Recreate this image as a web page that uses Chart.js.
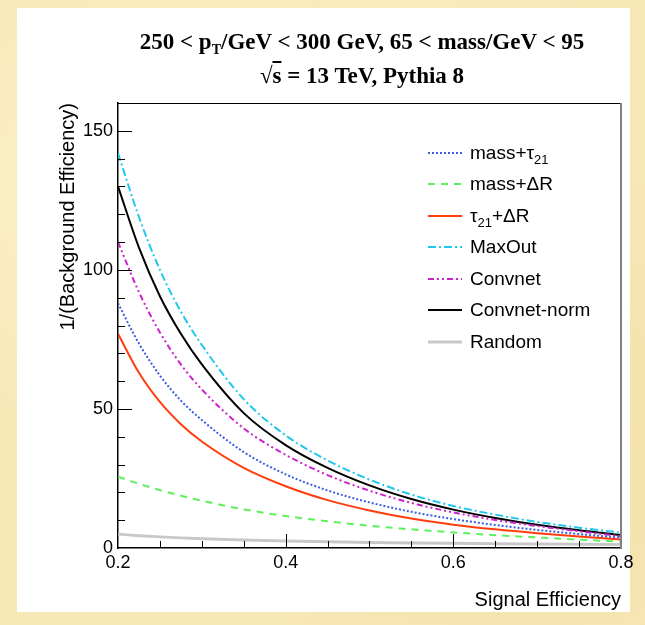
<!DOCTYPE html>
<html>
<head>
<meta charset="utf-8">
<script src="https://cdn.jsdelivr.net/npm/chart.js@4.4.1/dist/chart.umd.min.js"></script>
<style>
  html, body { margin: 0; padding: 0; }
  body {
    width: 645px; height: 625px; position: relative; overflow: hidden;
    background-color: #f8e8b6;
    background-image:
      radial-gradient(circle at 20% 30%, rgba(255,247,215,0.6) 0, rgba(255,247,215,0) 40%),
      radial-gradient(circle at 80% 70%, rgba(238,214,155,0.5) 0, rgba(238,214,155,0) 45%),
      radial-gradient(circle at 60% 10%, rgba(252,238,195,0.7) 0, rgba(252,238,195,0) 35%);
  }
  #panel { position: absolute; left: 17px; top: 8px; width: 613px; height: 604px; background: #fff; }
  #chart { position: absolute; left: 0; top: 0; }
  #title {
    position: absolute; left: 112px; top: 25px; width: 500px;
    text-align: center; color: #000;
    font: bold 23px "Liberation Serif", "Times New Roman", serif; line-height: 34px;
  }
  #title sub { font-size: 14px; vertical-align: -5px; line-height: 0; }
  .ov { text-decoration: overline; }
  #legend { position: absolute; left: 428px; top: 137px; font: 19px "Liberation Sans", Arial, sans-serif; color: #000; }
  #legend .row { height: 31.5px; display: flex; align-items: center; }
  #legend svg { margin-right: 8px; }
  #legend sub { font-size: 13px; vertical-align: -5px; line-height: 0; }
</style>
</head>
<body>
<div id="panel"></div>
<canvas id="chart" width="645" height="625"></canvas>
<div id="title">250 &lt; p<sub>T</sub>/GeV &lt; 300 GeV, 65 &lt; mass/GeV &lt; 95<br>√<span class="ov">s</span> = 13 TeV, Pythia 8</div>
<div id="legend"></div>
<script>
// signal efficiency (x) and 1/(background efficiency) per tagger
const sigEff      = [0.2, 0.225, 0.25, 0.275, 0.3, 0.35, 0.4, 0.45, 0.5, 0.55, 0.6, 0.65, 0.7, 0.75, 0.8];
const massTau21   = [88, 73.5, 62, 53, 46, 34.5, 26.5, 20.7, 16.4, 13.0, 10.4, 8.3, 6.5, 5.0, 3.7];
const massDeltaR  = [25.6, 23.1, 20.8, 18.8, 17.0, 13.9, 11.5, 9.6, 8.0, 6.7, 5.6, 4.6, 3.8, 3.0, 2.3];
const tau21DeltaR = [77, 63, 52.5, 44.5, 38.3, 28.8, 22.2, 17.2, 13.5, 10.6, 8.4, 6.7, 5.3, 4.1, 3.1];
const maxOut      = [142, 119, 100, 85, 73, 53.5, 40.5, 31.5, 24.6, 19.2, 15.1, 12.0, 9.4, 7.3, 5.5];
const convnet     = [110, 92, 77.5, 66, 57, 43, 33.5, 26.2, 20.6, 16.2, 12.8, 10.1, 7.9, 6.0, 4.2];
const convnetNorm = [130, 108, 90.5, 77, 66, 48.5, 37, 28.8, 22.5, 17.6, 13.8, 10.8, 8.4, 6.4, 4.7];
const randomTag   = [5.0, 4.44, 4.0, 3.64, 3.33, 2.86, 2.5, 2.22, 2.0, 1.82, 1.67, 1.54, 1.43, 1.33, 1.25];

const legendLabels = ['mass+τ<sub>21</sub>', 'mass+ΔR', 'τ<sub>21</sub>+ΔR', 'MaxOut', 'Convnet', 'Convnet-norm', 'Random'];
const xTickLabels = [0.2, 0.4, 0.6, 0.8];
const yTickLabels = [0, 50, 100, 150];
const xMinorTicks = [0.25, 0.3, 0.35, 0.4, 0.45, 0.5, 0.55, 0.6, 0.65, 0.7, 0.75];
const yMinorTicks = [10, 20, 30, 40, 50, 60, 70, 80, 90, 100, 110, 120, 130, 140, 150];

const styles = [
  { color: '#3a5fe0', width: 2, dash: [2, 2] },
  { color: '#5cf05c', width: 2, dash: [7, 6] },
  { color: '#ff3d0d', width: 2, dash: [] },
  { color: '#1fc8ee', width: 2, dash: [8, 3, 2, 3] },
  { color: '#cc22cc', width: 2, dash: [6, 3, 2, 3, 2, 3] },
  { color: '#000000', width: 2, dash: [] },
  { color: '#c8c8c8', width: 3, dash: [] }
];

const series = [massTau21, massDeltaR, tau21DeltaR, maxOut, convnet, convnetNorm, randomTag];

const datasets = series.map((vals, i) => ({
  label: legendLabels[i].replace(/<\/?sub>/g, ''),
  data: vals.map((v, k) => ({ x: sigEff[k], y: v })),
  borderColor: styles[i].color,
  borderWidth: styles[i].width,
  borderDash: styles[i].dash,
  pointRadius: 0,
  fill: false,
  cubicInterpolationMode: 'monotone'
}));

// legend as html so the subscripts stay real text
const legendEl = document.getElementById('legend');
legendLabels.forEach((lab, i) => {
  const s = styles[i];
  const row = document.createElement('div');
  row.className = 'row';
  row.innerHTML = `<svg width="34" height="10"><line x1="0" y1="5" x2="34" y2="5" stroke="${s.color}" stroke-width="${s.width}" stroke-dasharray="${s.dash.join(' ')}"/></svg><span>${lab}</span>`;
  legendEl.appendChild(row);
});

// ROOT style ticks pointing into the frame, plus the top / right frame lines
const insideTicks = {
  id: 'insideTicks',
  afterDraw(chart) {
    const { ctx, chartArea: a, scales: { x, y } } = chart;
    ctx.save();
    ctx.strokeStyle = '#000';
    ctx.lineWidth = 1;
    ctx.beginPath();
    yMinorTicks.forEach(v => {
      const py = Math.round(y.getPixelForValue(v)) + 0.5;
      const len = v % 50 === 0 ? 14 : 7;
      ctx.moveTo(a.left, py);
      ctx.lineTo(a.left + len, py);
    });
    xMinorTicks.forEach(v => {
      const px = Math.round(x.getPixelForValue(v)) + 0.5;
      const len = Math.abs(v * 10 % 2) < 1e-6 ? 14 : 7;
      ctx.moveTo(px, a.bottom);
      ctx.lineTo(px, a.bottom - len);
    });
    ctx.moveTo(a.left, a.top + 0.5);
    ctx.lineTo(a.right, a.top + 0.5);
    ctx.stroke();
    ctx.strokeStyle = '#808080';
    ctx.lineWidth = 2;
    ctx.beginPath();
    ctx.moveTo(a.right, a.top);
    ctx.lineTo(a.right, a.bottom);
    ctx.stroke();
    ctx.restore();
  }
};

const tickFont = { family: '"Liberation Sans", Arial, sans-serif', size: 18 };
const titleFont = { family: '"Liberation Sans", Arial, sans-serif', size: 20 };

new Chart(document.getElementById('chart').getContext('2d'), {
  type: 'line',
  data: { datasets },
  plugins: [insideTicks],
  options: {
    responsive: false,
    animation: false,
    layout: { padding: { left: 56, right: 24, top: 103, bottom: 13 } },
    plugins: {
      legend: { display: false },
      tooltip: { enabled: false }
    },
    scales: {
      x: {
        type: 'linear',
        min: 0.2,
        max: 0.8,
        afterFit: s => { s.height = 64; },
        afterBuildTicks: s => { s.ticks = xTickLabels.map(v => ({ value: v })); },
        grid: { display: false, drawTicks: false },
        border: { display: true, color: '#000', width: 1.5 },
        ticks: { color: '#000', font: tickFont, padding: 4, maxRotation: 0, callback: v => v.toFixed(1) },
        title: { display: true, text: 'Signal Efficiency', align: 'end', color: '#000', font: titleFont, padding: 0 }
      },
      y: {
        type: 'linear',
        min: 0,
        max: 160,
        afterFit: s => { s.width = 62; },
        afterBuildTicks: s => { s.ticks = yTickLabels.map(v => ({ value: v })); },
        grid: { display: false, drawTicks: false },
        border: { display: true, color: '#000', width: 1.5 },
        ticks: { color: '#000', font: tickFont, padding: 5 },
        title: { display: true, text: '1/(Background Efficiency)', align: 'end', color: '#000', font: titleFont, padding: 0 }
      }
    }
  }
});
</script>
</body>
</html>
